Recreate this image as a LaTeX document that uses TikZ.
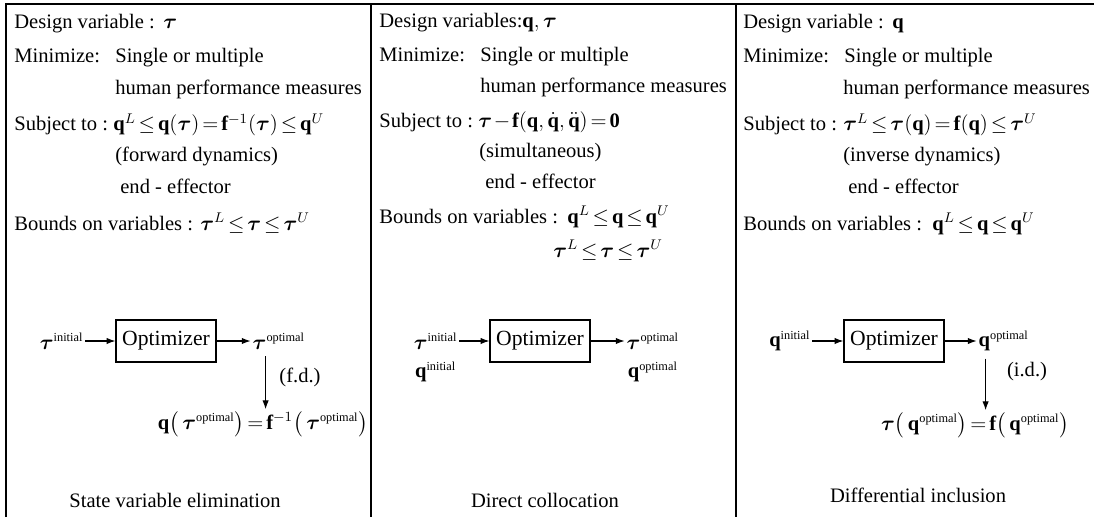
\documentclass[tikz,border=0pt]{standalone}
\usepackage{amsmath}
\usepackage{bm}
\usepackage{fontspec}
\setmainfont{Liberation Serif}
\usepackage{tikz}
\usetikzlibrary{arrows.meta,positioning}

\newcommand{\bq}{\mathbf{q}}
\newcommand{\btau}{\bm{\tau}}
\newcommand{\bff}{\mathbf{f}}
\newcommand{\smallsup}[1]{\text{\fontsize{7}{7}\selectfont #1}}
\newcommand{\headw}[2]{\makebox[#1][l]{#2}}
\thickmuskip=2.5mu plus 1mu
\medmuskip=1.5mu plus 1mu

\tikzset{
  frame/.style={line width=0.9pt},
  txt/.style={anchor=base west, inner sep=0pt, font=\fontsize{11.7}{14}\selectfont},
  var/.style={inner sep=1pt, font=\fontsize{11.7}{14}\selectfont},
  optbox/.style={draw, line width=0.7pt, minimum width=2cm, minimum height=0.84cm, inner sep=0pt, font=\fontsize{12.3}{14}\selectfont},
  arr/.style={-{Latex[length=5pt,width=3.6pt]}, line width=0.6pt}
}

\begin{document}
\begin{tikzpicture}[x=0.02cm, y=-0.02cm]
\useasboundingbox (0,0) rectangle (1094,517);
% table lines
\draw[frame] (6,517) -- (6,4) -- (1094,4);
\draw[frame] (371,4) -- (371,517);
\draw[frame] (736,4) -- (736,517);

% state variable elimination
\node[txt] (dv1) at (14,29) {\headw{2.98cm}{Design variable :}$\btau$};
\node[txt] (mn1) at (14,63) {\headw{2.02cm}{Minimize:}Single or multiple};
\node[txt] (hp1) at (115,94) {human performance measures};
\node[txt] (st1) at (14,131) {\headw{1.98cm}{Subject to :}$\bq^L\le\bq(\btau)=\bff^{-1}(\btau)\le\bq^U$};
\node[txt] (fw1) at (115,161) {(forward dynamics)};
\node[txt] (ee1) at (120,193) {end - effector};
\node[txt] (bd1) at (14,230) {\headw{3.72cm}{Bounds on variables :}$\btau^L\le\btau\le\btau^U$};

\node[optbox] (op1) at (166,341) {Optimizer};
\node[var, left=0.6cm of op1] (ti1) {$\btau^{\smallsup{initial}}$};
\node[var, right=0.68cm of op1] (to1) {$\btau^{\smallsup{optimal}}$};
\node[var] (fd1) at (300,377) {(f.d.)};
\node[var] (eq1) at (263,424) {$\bq\bigl(\,\btau^{\smallsup{optimal}}\bigr)=\bff^{-1}\bigl(\,\btau^{\smallsup{optimal}}\bigr)$};
\node[var] (nm1) at (175,500) {State variable elimination};
\draw[arr] (ti1.east |- op1.west) -- (op1.west);
\draw[arr] (op1.east) -- (op1.east -| to1.west);
\coordinate (dn1) at ([xshift=0.3cm, yshift=-3pt]to1.south west);
\draw[arr] (dn1) -- (dn1 |- eq1.north);

% direct collocation
\node[txt] (dv2) at (379,28) {\headw{2.86cm}{Design variables:}$\bq,\btau$};
\node[txt] (mn2) at (379,62) {\headw{2.02cm}{Minimize:}Single or multiple};
\node[txt] (hp2) at (480,92) {human performance measures};
\node[txt] (st2) at (379,127) {\headw{1.98cm}{Subject to :}$\btau-\bff(\bq,\dot{\bq},\ddot{\bq})=\mathbf{0}$};
\node[txt] (sm2) at (479,157) {(simultaneous)};
\node[txt] (ee2) at (485,188) {end - effector};
\node[txt] (bd2) at (379,223) {\headw{3.76cm}{Bounds on variables :}$\bq^L\le\bq\le\bq^U$};
\node[txt] (bt2) at (553,257) {$\btau^L\le\btau\le\btau^U$};

\node[optbox] (op2) at (540,341) {Optimizer};
\node[var, left=0.6cm of op2] (ti2) {$\btau^{\smallsup{initial}}$};
\node[var] (qi2) at ([yshift=-0.62cm]ti2) {$\bq^{\smallsup{initial}}$};
\node[var, right=0.68cm of op2] (to2) {$\btau^{\smallsup{optimal}}$};
\node[var] (qo2) at ([yshift=-0.62cm]to2) {$\bq^{\smallsup{optimal}}$};
\node[var] (nm2) at (545,500) {Direct collocation};
\draw[arr] (ti2.east |- op2.west) -- (op2.west);
\draw[arr] (op2.east) -- (op2.east -| to2.west);

% differential inclusion
\node[txt] (dv3) at (743,29) {\headw{2.98cm}{Design variable :}$\bq$};
\node[txt] (mn3) at (743,63) {\headw{2.02cm}{Minimize:}Single or multiple};
\node[txt] (hp3) at (843,94) {human performance measures};
\node[txt] (st3) at (743,131) {\headw{2cm}{Subject to :}$\btau^L\le\btau(\bq)=\bff(\bq)\le\btau^U$};
\node[txt] (iv3) at (843,161) {(inverse dynamics)};
\node[txt] (ee3) at (848,193) {end - effector};
\node[txt] (bd3) at (743,230) {\headw{3.78cm}{Bounds on variables :}$\bq^L\le\bq\le\bq^U$};

\node[optbox] (op3) at (894,341) {Optimizer};
\node[var, left=0.62cm of op3] (qi3) {$\bq^{\smallsup{initial}}$};
\node[var, right=0.64cm of op3] (qo3) {$\bq^{\smallsup{optimal}}$};
\node[var] (id3) at (1027,372) {(i.d.)};
\node[var] (eq3) at (975,425) {$\btau\bigl(\,\bq^{\smallsup{optimal}}\bigr)=\bff\bigl(\,\bq^{\smallsup{optimal}}\bigr)$};
\node[var] (nm3) at (918,495) {Differential inclusion};
\draw[arr] (qi3.east |- op3.west) -- (op3.west);
\draw[arr] (op3.east) -- (op3.east -| qo3.west);
\coordinate (dn3) at ([xshift=0.18cm, yshift=-3pt]qo3.south west);
\draw[arr] (dn3) -- (dn3 |- eq3.north);
\end{tikzpicture}
\end{document}
